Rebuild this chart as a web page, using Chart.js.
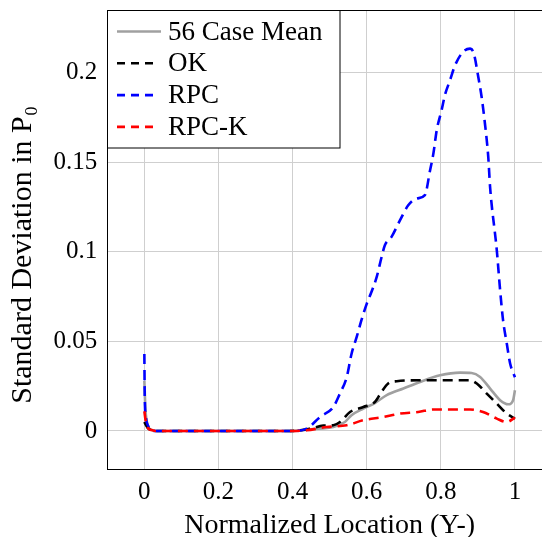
<!DOCTYPE html>
<html>
<head>
<meta charset="utf-8">
<script src="https://cdn.jsdelivr.net/npm/chart.js@4"></script>
<style>
  html, body { margin: 0; padding: 0; background: #fff; overflow: hidden; }
  canvas { display: block; background: #fff; }
</style>
</head>
<body>
<canvas id="chart" width="560" height="537"></canvas>
<script>
// Values
const seriesNames = ['56 Case Mean', 'OK', 'RPC', 'RPC-K'];

const xMean = [0, 0.003, 0.008, 0.015, 0.03, 0.2, 0.4, 0.45, 0.51, 0.541, 0.559, 0.591, 0.622, 0.654, 0.699, 0.744, 0.798, 0.852, 0.883, 0.906, 0.933, 0.96, 0.982, 0.995, 1.0];
const yMean = [0.028, 0.012, 0.004, 0.001, 0, 0, 0, 0.001, 0.0022, 0.005, 0.0088, 0.0125, 0.0156, 0.02, 0.0237, 0.0274, 0.0311, 0.0326, 0.0324, 0.0302, 0.0237, 0.0172, 0.0149, 0.0172, 0.0227];

const xOK = [0, 0.005, 0.01, 0.02, 0.03, 0.2, 0.393, 0.447, 0.483, 0.51, 0.528, 0.555, 0.591, 0.622, 0.64, 0.658, 0.681, 0.739, 0.78, 0.879, 0.897, 0.924, 0.951, 0.978, 1.0];
const yOK = [0.005, 0.003, 0.0015, 0.0005, 0, 0, 0, 0.0013, 0.003, 0.0032, 0.005, 0.0106, 0.0134, 0.0162, 0.0218, 0.0265, 0.0278, 0.0283, 0.0283, 0.0283, 0.0265, 0.0209, 0.0153, 0.0097, 0.0069];

const xRPC = [0, 0.001, 0.004, 0.01, 0.02, 0.03, 0.2, 0.4, 0.438, 0.474, 0.51, 0.528, 0.546, 0.559, 0.573, 0.586, 0.6, 0.613, 0.627, 0.64, 0.649, 0.667, 0.69, 0.712, 0.735, 0.757, 0.771, 0.78, 0.789, 0.802, 0.811, 0.825, 0.838, 0.86, 0.879, 0.889, 0.901, 0.91, 0.919, 0.928, 0.933, 0.951, 0.96, 0.968, 0.978, 0.987, 1.0];
const yRPC = [0.043, 0.02, 0.008, 0.003, 0.0005, 0, 0, 0, 0.0013, 0.0078, 0.0134, 0.021, 0.030, 0.043, 0.0525, 0.062, 0.071, 0.0777, 0.086, 0.097, 0.1037, 0.1084, 0.1177, 0.126, 0.1298, 0.1317, 0.1456, 0.155, 0.168, 0.179, 0.1875, 0.196, 0.204, 0.2117, 0.2135, 0.2108, 0.1978, 0.1866, 0.1717, 0.153, 0.136, 0.101, 0.0786, 0.0618, 0.0488, 0.0377, 0.030];

const xRPCK = [0, 0.004, 0.01, 0.02, 0.03, 0.2, 0.4, 0.438, 0.492, 0.546, 0.591, 0.645, 0.69, 0.739, 0.78, 0.879, 0.914, 0.951, 0.978, 1.0];
const yRPCK = [0.011, 0.005, 0.0015, 0.0005, 0, 0, 0, 0.0004, 0.0022, 0.0032, 0.006, 0.0078, 0.0097, 0.0106, 0.012, 0.012, 0.0106, 0.0069, 0.005, 0.0075];

const xTicks = [0, 0.2, 0.4, 0.6, 0.8, 1];
const xTickLabels = ['0', '0.2', '0.4', '0.6', '0.8', '1'];
const yTicks = [0, 0.05, 0.1, 0.15, 0.2];
const yTickLabels = ['0', '0.05', '0.1', '0.15', '0.2'];

const serif = "'Liberation Serif', 'Times New Roman', serif";

function pts(xs, ys) {
    return xs.map((x, i) => ({ x: x, y: ys[i] }));
}

// frame around the plot and the legend box inside the top-left corner
const frameAndLegend = {
    id: 'frameAndLegend',
    afterDraw(chart) {
        const c = chart.ctx;
        const a = chart.chartArea;
        c.save();
        c.strokeStyle = '#000';
        c.lineWidth = 1;
        c.strokeRect(Math.round(a.left) + 0.5, Math.round(a.top) + 0.5, a.right - a.left, a.bottom - a.top);

        // legend
        const bx = Math.round(a.left) + 0.5, by = Math.round(a.top) + 0.5;
        c.fillStyle = '#fff';
        c.fillRect(bx, by, 232.5, 137.5);
        c.strokeRect(bx, by, 232.5, 137.5);
        c.font = '27px ' + serif;
        c.textBaseline = 'middle';
        c.textAlign = 'left';
        chart.data.datasets.forEach((ds, i) => {
            const y = 31.5 + i * 31.8;
            c.strokeStyle = ds.borderColor;
            c.lineWidth = ds.borderWidth;
            c.setLineDash(ds.borderDash ? [8, 6] : []);
            c.beginPath();
            c.moveTo(117, y);
            c.lineTo(ds.borderDash ? 153 : 161, y);
            c.stroke();
            c.setLineDash([]);
            c.fillStyle = '#000';
            c.fillText(ds.label, 168, y + 1);
        });
        c.restore();
    }
};

const ctx = document.getElementById('chart').getContext('2d');
const chart = new Chart(ctx, {
    type: 'line',
    data: {
        datasets: [
            { label: seriesNames[0], data: pts(xMean, yMean), borderColor: '#a0a0a0', borderWidth: 2.6, order: 4 },
            { label: seriesNames[1], data: pts(xOK, yOK), borderColor: '#000000', borderWidth: 2.6, borderDash: [10, 6], order: 3 },
            { label: seriesNames[2], data: pts(xRPC, yRPC), borderColor: '#0000ff', borderWidth: 2.6, borderDash: [10, 6], order: 2 },
            { label: seriesNames[3], data: pts(xRPCK, yRPCK), borderColor: '#ff0000', borderWidth: 2.6, borderDash: [10, 6], order: 1 }
        ]
    },
    options: {
        responsive: false,
        animation: false,
        cubicInterpolationMode: 'monotone',
        elements: { point: { radius: 0 }, line: { fill: false } },
        layout: { padding: { left: 0, top: 10.3, right: 8, bottom: 0 } },
        plugins: { legend: { display: false }, tooltip: { enabled: false } },
        scales: {
            x: {
                type: 'linear',
                min: -0.1,
                max: 1.1,
                afterBuildTicks: s => { s.ticks = xTicks.map(v => ({ value: v })); },
                afterFit: s => { s.height = 67.7; s.paddingLeft = 0; s.paddingRight = 0; },
                ticks: {
                    callback: (v, i) => xTickLabels[i],
                    font: { family: serif, size: 25 },
                    color: '#000',
                    padding: 8,
                    maxRotation: 0
                },
                grid: { color: '#cfcfcf', drawTicks: false },
                border: { color: '#000', width: 1 },
                title: {
                    display: true,
                    text: 'Normalized Location (Y-)',
                    font: { family: serif, size: 28, lineHeight: 1 },
                    color: '#000',
                    padding: { top: 0, bottom: -3 }
                }
            },
            y: {
                type: 'linear',
                min: -0.0214,
                max: 0.2349,
                afterBuildTicks: s => { s.ticks = yTicks.map(v => ({ value: v })); },
                afterFit: s => { s.width = 107.3; s.paddingTop = 0; s.paddingBottom = 0; },
                ticks: {
                    callback: (v, i) => yTickLabels[i],
                    font: { family: serif, size: 25 },
                    color: '#000',
                    padding: 10
                },
                grid: { color: '#cfcfcf', drawTicks: false },
                border: { color: '#000', width: 1 },
                title: {
                    display: true,
                    text: 'Standard Deviation in P₀\u2003',
                    font: { family: serif, size: 30, lineHeight: 1 },
                    color: '#000',
                    padding: { top: 8, bottom: 0 }
                }
            }
        }
    },
    plugins: [frameAndLegend]
});
</script>
</body>
</html>
